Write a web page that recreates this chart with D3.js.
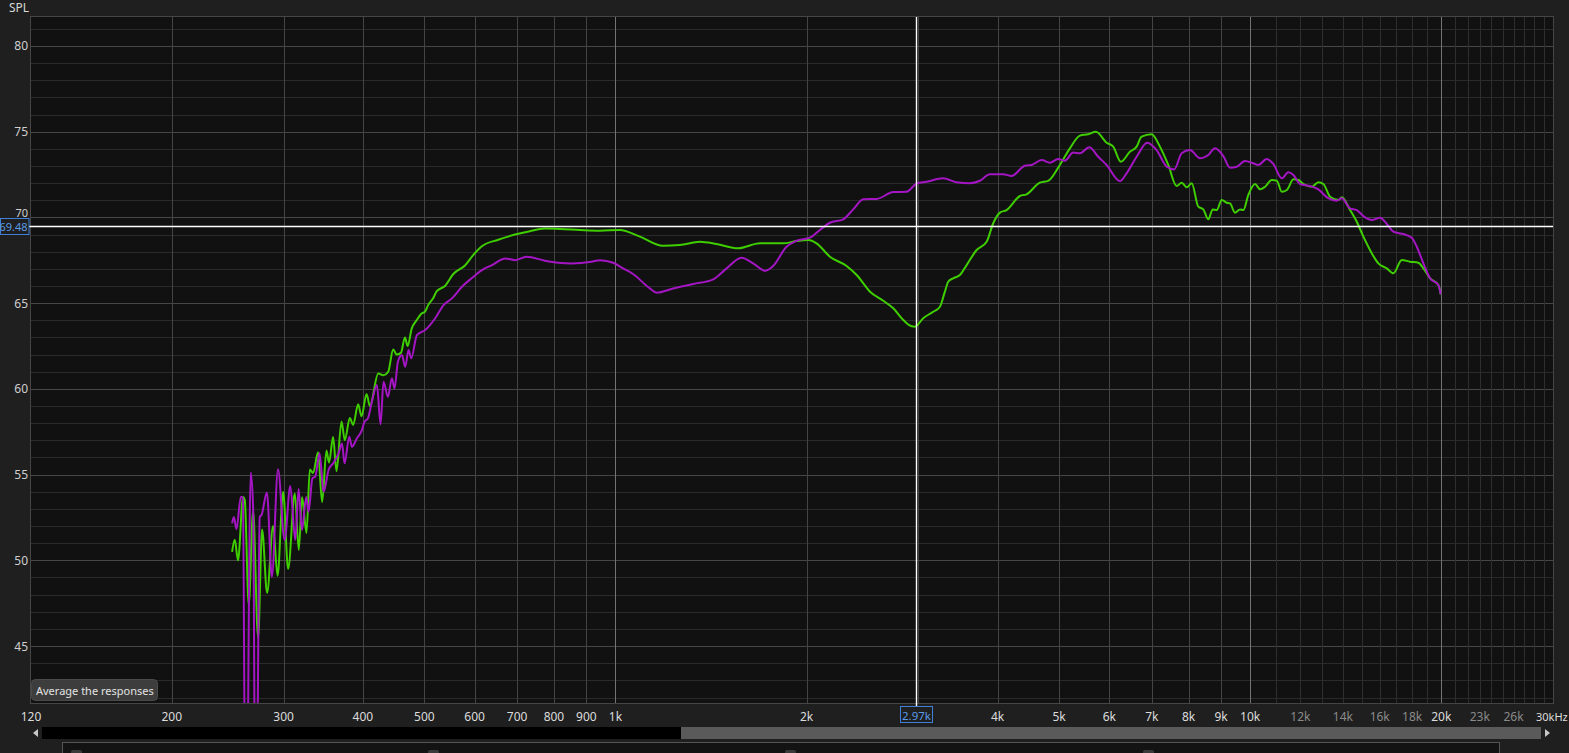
<!DOCTYPE html>
<html>
<head>
<meta charset="utf-8">
<script src="https://cdn.jsdelivr.net/npm/d3@7"></script>
<style>
  html, body { margin: 0; padding: 0; background: #1f1f1f; overflow: hidden; }
  svg { display: block; }
  text { font-family: "Noto Sans", "DejaVu Sans", sans-serif; }
</style>
</head>
<body>
<svg id="chart" width="1569" height="753"></svg>
<script>
// ---------------- DATA ----------------
const greenFreq = [248.9,251.3,254.3,259.0,260.6,264.4,268.6,273.5,277.5,282.6,288.8,293.5,299.5,305.0,312.5,317.0,320.8,326.0,330.0,333.9,340.0,345.0,350.5,353.8,359.0,363.5,370.2,374.6,381.5,386.1,393.2,398.1,405.4,410.3,422.9,430.6,438.5,446.5,452.1,459.2,465.9,470.5,477.4,486.1,495.0,501.0,507.1,516.4,522.9,538.8,555.3,579.4,596.8,615.2,653.5,694.2,733,774,818,879,945,1016,1093,1188,1263,1358,1443,1561,1689,1838,1929,2012,2074,2177,2313,2399,2518,2642,2740,2841,2929,2964,3054,3167,3245,3304,3344,3405,3489,3575,3707,3844,3937,4034,4133,4337,4444,4664,4806,5014,5200,5392,5557,5714,5940,6084,6256,6464,6624,6745,6994,7208,7430,7659,7800,7943,8089,8285,8437,8590,8730,8858,9019,9184,9295,9465,9638,9755,9934,10178,10365,10556,10815,11014,11216,11421,11700,11912,12131,12505,12807,13043,13362,13772,13943,14370,14723,15080,15546,15922,16414,16812,17333,17861,18408,18746,19209,19794,19968];
const greenSPL = [50.5,51.2,50.0,53.7,53.5,47.4,52.9,45.5,51.8,48.1,52.0,49.1,54.0,49.5,53.9,50.6,53.7,51.6,55.3,55.1,56.3,53.4,56.4,55.7,57.2,55.2,58.1,57.0,58.3,57.9,59.1,58.4,59.7,59.0,60.9,60.8,61.0,62.3,62.0,62.1,63.0,62.5,63.5,64.0,64.4,64.5,64.9,65.3,65.7,66.0,66.7,67.2,67.8,68.3,68.7,69.0,69.2,69.35,69.33,69.27,69.23,69.27,68.88,68.35,68.39,68.58,68.45,68.2,68.49,68.49,68.62,68.68,68.49,67.71,67.17,66.64,65.67,65.14,64.7,64.02,63.65,63.63,64.12,64.5,64.79,65.67,66.25,66.45,66.64,67.22,68.1,68.58,69.66,70.28,70.43,71.25,71.35,72.03,72.13,73.06,74.03,74.77,74.85,75.0,74.36,74.13,73.25,73.83,74.13,74.71,74.85,74.13,73.06,71.83,72.03,71.76,71.99,70.63,70.47,69.89,70.47,70.43,71.02,70.86,70.82,70.28,70.47,70.43,71.31,71.95,71.64,71.79,72.18,72.14,71.5,71.6,72.22,72.18,71.95,71.79,72.05,71.95,71.21,71.02,71.17,70.43,69.75,68.88,67.91,67.32,67.03,66.74,67.52,67.42,67.36,67.03,66.45,66.06,65.52];

const purpleFreq = [248.9,250.5,252.9,256.9,258.8,261.6,266.3,268.6,271.2,275.2,276.9,282.4,287.5,294.0,301.1,307.4,313.0,316.8,320.6,325.7,328.4,333.2,336.5,341.8,346.8,353.2,359.6,366.2,370.8,374.3,380.7,384.4,391.4,398.6,402.4,407.4,413.3,420.9,426.5,431.1,438.0,444.4,448.6,454.2,460.9,466.4,472.1,476.6,486.6,501.5,520.0,536.0,552.6,573.0,593.3,616.2,639.0,670.6,695.3,724.2,773.9,812.5,852.7,917.0,944.9,991.7,1028,1066,1133,1161,1233,1326,1426,1497,1580,1648,1720,1772,1860,1929,2025,2099,2177,2285,2369,2457,2579,2740,2876,2982,3092,3283,3447,3618,3751,3890,4083,4209,4417,4526,4693,4836,4984,5107,5263,5392,5578,5763,5940,6234,6387,6624,6884,7122,7387,7592,7800,8038,8337,8590,8802,9072,9295,9524,9813,10113,10299,10618,10875,11213,11486,11697,11983,12426,12804,13275,13687,13939,14370,14723,15080,15546,16022,16414,16812,17433,17972,18303,18746,19209,19794,19968];
const purpleSPL = [52.16,52.53,51.82,53.71,53.62,30,55.13,53.12,30,52.54,52.64,53.96,49.04,55.32,51.18,54.33,51.18,54.16,51.77,53.69,52.83,54.80,54.88,56.24,54.00,55.27,55.69,56.24,56.82,55.66,57.21,56.63,57.12,57.60,58.08,58.28,59.25,60.23,57.93,60.42,59.54,60.62,60.03,61.58,61.97,61.29,62.27,61.78,63.14,63.43,64.12,64.89,65.28,65.96,66.45,66.93,67.22,67.61,67.51,67.71,67.48,67.36,67.32,67.42,67.51,67.36,67.03,66.70,65.86,65.61,65.86,66.12,66.39,67.03,67.65,67.32,66.89,67.17,68.29,68.64,68.82,69.27,69.69,69.89,70.47,71.06,71.08,71.48,71.50,71.98,72.08,72.28,72.05,71.99,72.14,72.52,72.52,72.42,73.02,73.06,73.35,73.19,73.41,73.31,73.78,73.74,74.09,73.54,73.06,72.12,72.57,73.54,74.36,73.93,72.96,72.80,73.74,73.93,73.45,73.64,74.03,73.58,72.90,72.96,73.29,73.16,73.06,73.41,73.12,72.28,72.63,72.47,71.95,71.83,71.64,71.12,70.97,71.12,70.53,70.43,70.08,69.85,69.98,69.62,69.17,69.03,68.82,68.29,67.32,66.45,66.06,65.52];

const yTickValues = [80, 75, 70, 65, 60, 55, 50, 45];
const xTickValues = [120,200,300,400,500,600,700,800,900,1000,2000,4000,5000,6000,7000,8000,9000,10000,12000,14000,16000,18000,20000,23000,26000,30000];
const xTickLabels = ["120","200","300","400","500","600","700","800","900","1k","2k","4k","5k","6k","7k","8k","9k","10k","12k","14k","16k","18k","20k","23k","26k","30kHz"];
const xDimLabels = ["12k","14k","16k","18k","23k","26k"];
const gridNormal = [200,300,400,500,600,700,800,900,2000,3000,4000,5000,6000,7000,8000,9000];
const gridBright = [1000,10000,20000];
const gridDim = [11000,12000,13000,14000,15000,16000,17000,18000,19000,21000,22000,23000,24000,25000,26000,27000,28000,29000];
const cursorFreq = 2970, cursorSPL = 69.48;
const cursorFreqLabel = "2.97k", cursorSPLLabel = "69.48";

// ---------------- LAYOUT ----------------
const L = 31, R = 1553, T = 17, B = 703;
const svg = d3.select("#chart");
const x = d3.scaleLog().domain([120, 30000]).range([L, R]);
const y = d3.scaleLinear().domain([81.69, 41.68]).range([T, B]);

svg.append("rect").attr("width", 1569).attr("height", 753).attr("fill", "#1f1f1f");
svg.append("rect").attr("x", L).attr("y", T).attr("width", R - L).attr("height", B - T).attr("fill", "#111111");

const grid = svg.append("g").attr("shape-rendering", "crispEdges");
d3.range(42, 82).forEach(v => {
  grid.append("line").attr("x1", L).attr("x2", R).attr("y1", Math.round(y(v)) + 0.5).attr("y2", Math.round(y(v)) + 0.5)
    .attr("stroke", v % 5 === 0 ? "#474747" : "#2a2a2a").attr("stroke-width", 1);
});
function vline(f, color) {
  const px = Math.round(x(f)) + 0.5;
  grid.append("line").attr("x1", px).attr("x2", px).attr("y1", T).attr("y2", B).attr("stroke", color).attr("stroke-width", 1);
}
gridDim.forEach(f => vline(f, "#2e2e2e"));
gridNormal.forEach(f => vline(f, "#444444"));
gridBright.forEach(f => vline(f, "#747474"));
svg.append("rect").attr("x", L - 0.5).attr("y", T - 0.5).attr("width", R - L + 1).attr("height", B - T + 1)
  .attr("fill", "none").attr("stroke", "#454545").attr("shape-rendering", "crispEdges");

// curves
svg.append("clipPath").attr("id", "clip").append("rect").attr("x", L).attr("y", T).attr("width", R - L).attr("height", B - T);
const line = d3.line().x(d => x(d[0])).y(d => y(d[1])).curve(d3.curveMonotoneX);
const curves = svg.append("g").attr("clip-path", "url(#clip)");
curves.append("path").datum(d3.zip(greenFreq, greenSPL)).attr("d", line)
  .attr("fill", "none").attr("stroke", "#3fce00").attr("stroke-width", 2).attr("stroke-linejoin", "round");
curves.append("path").datum(d3.zip(purpleFreq, purpleSPL)).attr("d", line)
  .attr("fill", "none").attr("stroke", "#a415c4").attr("stroke-width", 2).attr("stroke-linejoin", "round");

// y labels
svg.append("text").attr("x", 9).attr("y", 12).attr("fill", "#d8d8d8").attr("font-size", 12).text("SPL");
yTickValues.forEach(v => {
  svg.append("text").attr("x", 28).attr("y", v === 70 ? y(v) - 5 : y(v)).attr("text-anchor", "end").attr("dominant-baseline", "central")
    .attr("fill", "#cfcfcf").attr("font-size", v === 70 ? 11 : 12).text(v);
});

// x labels
xTickValues.forEach((f, i) => {
  const lab = xTickLabels[i];
  const dim = xDimLabels.includes(lab);
  const t = svg.append("text").attr("y", 716).attr("dominant-baseline", "central")
    .attr("fill", dim ? "#8a8a8a" : "#dcdcdc").attr("font-size", 12).text(lab);
  if (lab === "30kHz") t.attr("x", 1536).attr("text-anchor", "start").attr("font-size", 11);
  else t.attr("x", x(f)).attr("text-anchor", "middle");
});

// cursor
const cx = Math.round(x(cursorFreq)) + 0.5, cy = Math.round(y(cursorSPL)) + 0.5;
svg.append("line").attr("x1", cx).attr("x2", cx).attr("y1", T).attr("y2", 706).attr("stroke", "#ffffff").attr("stroke-width", 1.4);
svg.append("line").attr("x1", 29).attr("x2", R).attr("y1", cy).attr("y2", cy).attr("stroke", "#ffffff").attr("stroke-width", 1.4);
svg.append("rect").attr("x", 0.5).attr("y", cy - 8).attr("width", 28.5).attr("height", 16)
  .attr("fill", "#1f1f1f").attr("stroke", "#3f80d8").attr("stroke-width", 1);
svg.append("text").attr("x", 27.5).attr("y", cy).attr("text-anchor", "end").attr("dominant-baseline", "central")
  .attr("fill", "#5a9ae6").attr("font-size", 11).text(cursorSPLLabel);
svg.append("rect").attr("x", cx - 16).attr("y", 706.5).attr("width", 32).attr("height", 16)
  .attr("fill", "#1f1f1f").attr("stroke", "#3f80d8").attr("stroke-width", 1);
svg.append("text").attr("x", cx).attr("y", 715).attr("text-anchor", "middle").attr("dominant-baseline", "central")
  .attr("fill", "#5a9ae6").attr("font-size", 11.5).text(cursorFreqLabel);

// button
svg.append("rect").attr("x", 31.5).attr("y", 679.5).attr("width", 126).attr("height", 21).attr("rx", 4)
  .attr("fill", "#3d3d3d").attr("stroke", "#4a4a4a");
svg.append("text").attr("x", 36).attr("y", 690.5).attr("dominant-baseline", "central")
  .attr("fill", "#e2e2e2").attr("font-size", 11).text("Average the responses");

// scrollbar
svg.append("polygon").attr("points", "33,733 38,729 38,737").attr("fill", "#c8c8c8");
svg.append("rect").attr("x", 42).attr("y", 727).attr("width", 639).attr("height", 12).attr("fill", "#000000");
svg.append("rect").attr("x", 681).attr("y", 727).attr("width", 860).attr("height", 12).attr("fill", "#5a5a5a");
svg.append("polygon").attr("points", "1545,729 1550,733 1545,737").attr("fill", "#c8c8c8");

// bottom panel
svg.append("rect").attr("x", 62.5).attr("y", 742.5).attr("width", 1437).attr("height", 20)
  .attr("fill", "#131313").attr("stroke", "#555555");
[71, 428, 785, 1143].forEach(px => {
  svg.append("rect").attr("x", px).attr("y", 750).attr("width", 11).attr("height", 8).attr("rx", 2)
    .attr("fill", "#3a3a3a");
});
</script>
</body>
</html>
